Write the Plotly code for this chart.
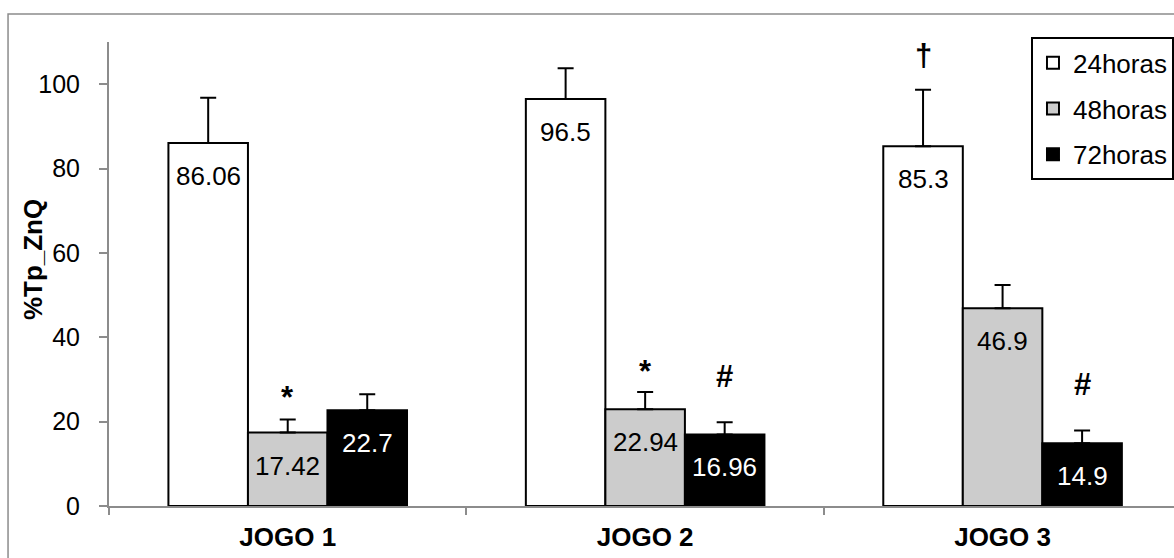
import plotly.graph_objects as go

categories = ["JOGO 1", "JOGO 2", "JOGO 3"]
series_names = ["24horas", "48horas", "72horas"]
values_24 = [86.06, 96.5, 85.3]
values_48 = [17.42, 22.94, 46.9]
values_72 = [22.7, 16.96, 14.9]
errors_24 = [10.7, 7.3, 13.4]
errors_48 = [3.1, 4.1, 5.5]
errors_72 = [3.8, 2.9, 3.0]
labels_24 = ["86.06", "96.5", "85.3"]
labels_48 = ["17.42", "22.94", "46.9"]
labels_72 = ["22.7", "16.96", "14.9"]
marks_24 = ["", "", "†"]
marks_48 = ["*", "*", ""]
marks_72 = ["", "#", "#"]
mark_y_24 = [None, None, 106.9]
mark_y_48 = [25.7, 32.0, None]
mark_y_72 = [None, 30.6, 28.9]
y_ticks = [0, 20, 40, 60, 80, 100]

FONT = "Liberation Sans, Arial, sans-serif"
fills = ["#ffffff", "#cccccc", "#000000"]
text_colors = ["#000000", "#000000", "#ffffff"]
values = [values_24, values_48, values_72]
errors = [errors_24, errors_48, errors_72]
labels = [labels_24, labels_48, labels_72]
marks = [marks_24, marks_48, marks_72]
mark_ys = [mark_y_24, mark_y_48, mark_y_72]

BARGAP = 0.3325
bar_w = (1 - BARGAP) / 3

fig = go.Figure()
for j in range(3):
    fig.add_trace(go.Bar(
        x=categories, y=values[j], name=series_names[j],
        legendgroup=series_names[j],
        marker=dict(color=fills[j], line=dict(color="#000000", width=2)),
        error_y=dict(type="data", symmetric=False, array=errors[j],
                     arrayminus=[0] * len(categories),
                     color="#000000", thickness=2, width=8),
    ))

annotations = []
for j in range(3):
    for i in range(len(categories)):
        xpos = i + (j - 1) * bar_w
        annotations.append(dict(
            x=xpos, y=values[j][i], xref="x", yref="y", text=labels[j][i],
            showarrow=False, yanchor="middle", yshift=-33,
            font=dict(family=FONT, size=26, color=text_colors[j])))
        if marks[j][i]:
            annotations.append(dict(
                x=xpos, y=mark_ys[j][i], xref="x", yref="y",
                text="<b>" + marks[j][i] + "</b>", showarrow=False,
                yanchor="middle", font=dict(family=FONT, size=31, color="#000000")))

annotations.append(dict(
    x=-0.0714, y=0.532, xref="paper", yref="paper", text="<b>%Tp_ZnQ</b>",
    textangle=-90, showarrow=False, xanchor="center", yanchor="middle",
    font=dict(family=FONT, size=26, color="#000000")))

fig.update_layout(
    width=1174, height=558,
    margin=dict(l=109, r=0, t=42, b=52, autoexpand=False),
    paper_bgcolor="#ffffff", plot_bgcolor="#ffffff",
    barmode="group", bargap=BARGAP, bargroupgap=0,
    font=dict(family=FONT, size=25, color="#000000"),
    showlegend=True,
    legend=dict(x=0.8657, y=1.0101, xanchor="left", yanchor="top",
                bordercolor="#000000", borderwidth=2, bgcolor="#ffffff",
                font=dict(family=FONT, size=26, color="#000000"),
                tracegroupgap=9, traceorder="grouped"),
    annotations=annotations,
    shapes=[dict(type="rect", xref="paper", yref="paper",
                 x0=-0.0948, x1=1.05, y0=-0.3, y1=1.0603,
                 line=dict(color="#8c8c8c", width=1.5), layer="below")],
    xaxis=dict(type="category", range=[-0.5, 2.4796], showline=True,
               linecolor="#8c8c8c", linewidth=2, ticks="outside",
               tickson="boundaries", ticklen=7, tickcolor="#8c8c8c", tickwidth=2,
               ticklabelstandoff=7,
               tickfont=dict(family=FONT, size=26, color="#000000", weight="bold"),
               showgrid=False, zeroline=False),
    yaxis=dict(range=[0, 110], tickvals=y_ticks, showline=True,
               linecolor="#8c8c8c", linewidth=2, ticks="outside", ticklen=8,
               tickcolor="#8c8c8c", tickwidth=2, ticklabelstandoff=14,
               tickfont=dict(family=FONT, size=25, color="#000000"),
               showgrid=False, zeroline=False),
)

fig.write_html("out.html", config={"displayModeBar": False},
               post_script="document.body.style.margin='0';document.body.style.overflow='hidden';")
